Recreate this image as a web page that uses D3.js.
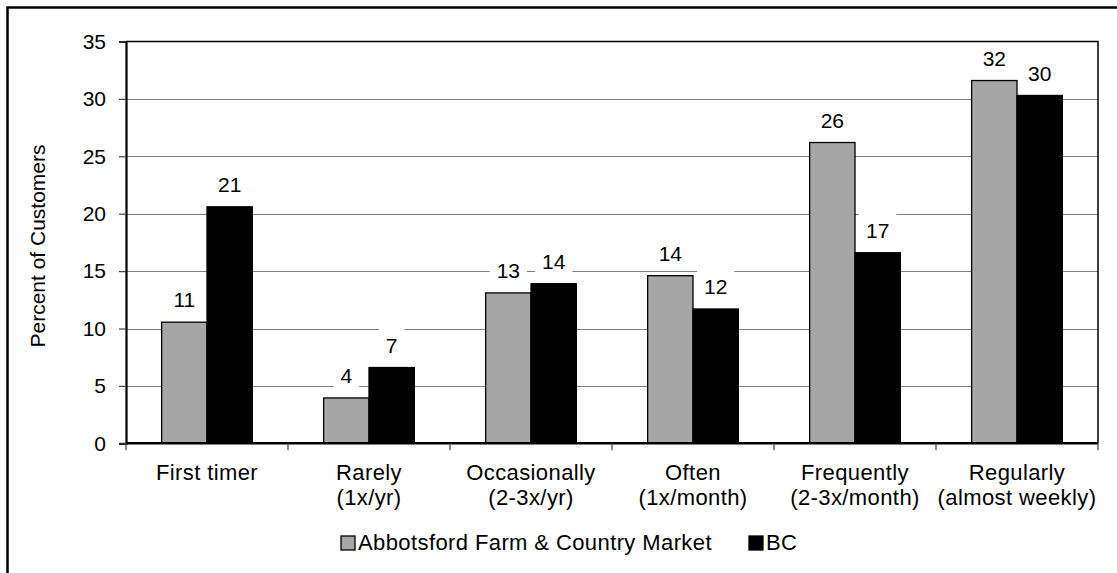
<!DOCTYPE html>
<html>
<head>
<meta charset="utf-8">
<script src="https://cdn.jsdelivr.net/npm/d3@7"></script>
<style>
  body { margin: 0; background: #fff; }
  svg { display: block; font-family: "Liberation Sans", Arial, sans-serif; }
</style>
</head>
<body>
<div id="chart"></div>
<script>
// chart data
const categories = [
  ["First timer"],
  ["Rarely", "(1x/yr)"],
  ["Occasionally", "(2-3x/yr)"],
  ["Often", "(1x/month)"],
  ["Frequently", "(2-3x/month)"],
  ["Regularly", "(almost weekly)"]
];
const seriesNames = ["Abbotsford Farm & Country Market", "BC"];
const abbotsford = [10.55, 3.95, 13.1, 14.6, 26.2, 31.6];
const bc = [20.6, 6.6, 13.9, 11.7, 16.6, 30.3];
const abbotsfordLabels = ["11", "4", "13", "14", "26", "32"];
const bcLabels = ["21", "7", "14", "12", "17", "30"];
const yTicks = [0, 5, 10, 15, 20, 25, 30, 35];

const width = 1117, height = 573;
const margin = {top: 41.5, right: 19, bottom: 129.7, left: 126};
const colors = ["#a6a6a6", "#000000"];

const svg = d3.select("#chart").append("svg")
    .attr("width", width)
    .attr("height", height);

// outer frame (runs off the right / bottom edge)
svg.append("rect")
    .attr("x", 7.5).attr("y", 7.5)
    .attr("width", width + 20).attr("height", height + 20)
    .attr("fill", "none")
    .attr("stroke", "#000")
    .attr("stroke-width", 2.5);

const catKeys = categories.map(c => c.join(" "));

const x0 = d3.scaleBand()
    .domain(catKeys)
    .range([margin.left, width - margin.right])
    .paddingInner(0.44)
    .paddingOuter(0.22);

const x1 = d3.scaleBand()
    .domain(seriesNames)
    .range([0, x0.bandwidth()]);

const y = d3.scaleLinear()
    .domain([0, 35])
    .range([height - margin.bottom, margin.top]);

const plotLeft = margin.left, plotRight = width - margin.right;

// gridlines
svg.append("g")
    .selectAll("line")
    .data(yTicks.filter(d => d > 0 && d < 35))
    .join("line")
    .attr("x1", plotLeft).attr("x2", plotRight)
    .attr("y1", d => Math.round(y(d)) + 0.5).attr("y2", d => Math.round(y(d)) + 0.5)
    .attr("stroke", "#808080")
    .attr("stroke-width", 1.2);

const rows = categories.map((c, i) => ({
  key: catKeys[i],
  values: [
    {series: seriesNames[0], value: abbotsford[i], label: abbotsfordLabels[i]},
    {series: seriesNames[1], value: bc[i], label: bcLabels[i]}
  ]
}));

const groups = svg.append("g")
    .selectAll("g")
    .data(rows)
    .join("g")
    .attr("transform", d => "translate(" + x0(d.key) + ",0)");

groups.selectAll("rect")
    .data(d => d.values)
    .join("rect")
    .attr("x", d => x1(d.series))
    .attr("y", d => y(d.value))
    .attr("width", x1.bandwidth())
    .attr("height", d => y(0) - y(d.value))
    .attr("fill", (d, i) => colors[i])
    .attr("stroke", "#000")
    .attr("stroke-width", 1.3);

// data labels with white boxes
const labels = groups.selectAll("g.lbl")
    .data(d => d.values)
    .join("g")
    .attr("class", "lbl")
    .attr("transform", d => "translate(" + (x1(d.series) + x1.bandwidth() / 2) + "," + (y(d.value) - 22.5) + ")");

labels.append("rect")
    .attr("x", d => -(d.label.length * 11.7) / 2 - 7)
    .attr("y", -18)
    .attr("width", d => d.label.length * 11.7 + 14)
    .attr("height", 30)
    .attr("fill", "#fff");

labels.append("text")
    .attr("text-anchor", "middle")
    .attr("dy", "0.36em")
    .attr("font-size", 21)
    .attr("fill", "#000")
    .text(d => d.label);

// plot border top/right (over the label boxes)
svg.append("path")
    .attr("d", `M${plotLeft},${y(35)}H${plotRight}V${y(0)}`)
    .attr("fill", "none")
    .attr("stroke", "#000")
    .attr("stroke-width", 1.5);

// y axis
const yAxis = svg.append("g")
    .attr("transform", "translate(" + plotLeft + ",0)")
    .call(d3.axisLeft(y).tickValues(yTicks).tickSize(7).tickPadding(13));
yAxis.select(".domain").attr("stroke-width", 2.2);
yAxis.selectAll(".tick line").attr("stroke-width", 1.2).attr("stroke", "#444");
yAxis.selectAll("text")
    .attr("font-size", 21)
    .attr("font-family", "Liberation Sans, Arial, sans-serif")
    .attr("fill", "#000");

// x axis
const step = x0.step();
const boundaries = d3.range(categories.length + 1).map(i => plotLeft + i * step);
const xAxisG = svg.append("g");
xAxisG.append("line")
    .attr("x1", plotLeft).attr("x2", plotRight)
    .attr("y1", y(0)).attr("y2", y(0))
    .attr("stroke", "#000")
    .attr("stroke-width", 2.5);
xAxisG.selectAll("line.tick")
    .data(boundaries)
    .join("line")
    .attr("class", "tick")
    .attr("x1", d => d).attr("x2", d => d)
    .attr("y1", y(0)).attr("y2", y(0) + 7)
    .attr("stroke", "#444")
    .attr("stroke-width", 1.2);

const catText = svg.append("g")
    .selectAll("text")
    .data(rows.map((r, i) => ({key: r.key, lines: categories[i]})))
    .join("text")
    .attr("text-anchor", "middle")
    .attr("font-size", 22)
    .attr("letter-spacing", 0.4)
    .attr("fill", "#000")
    .attr("x", d => x0(d.key) + x0.bandwidth() / 2)
    .attr("y", 480);
catText.selectAll("tspan")
    .data(d => d.lines)
    .join("tspan")
    .attr("x", function () { return d3.select(this.parentNode).attr("x"); })
    .attr("dy", (d, i) => i === 0 ? 0 : 25)
    .text(d => d);

// y axis title
svg.append("text")
    .attr("transform", "translate(45,246) rotate(-90)")
    .attr("text-anchor", "middle")
    .attr("font-size", 21)
    .attr("fill", "#000")
    .text("Percent of Customers");

// legend
const legendX = [341, 749];
const legend = svg.append("g")
    .selectAll("g")
    .data(seriesNames)
    .join("g")
    .attr("transform", (d, i) => "translate(" + legendX[i] + ",536)");
legend.append("rect")
    .attr("width", 14).attr("height", 14)
    .attr("fill", (d, i) => colors[i])
    .attr("stroke", "#000")
    .attr("stroke-width", 1.3);
legend.append("text")
    .attr("x", 17)
    .attr("y", 14)
    .attr("font-size", 22)
    .attr("letter-spacing", 0.4)
    .attr("fill", "#000")
    .text(d => d);
</script>
</body>
</html>
